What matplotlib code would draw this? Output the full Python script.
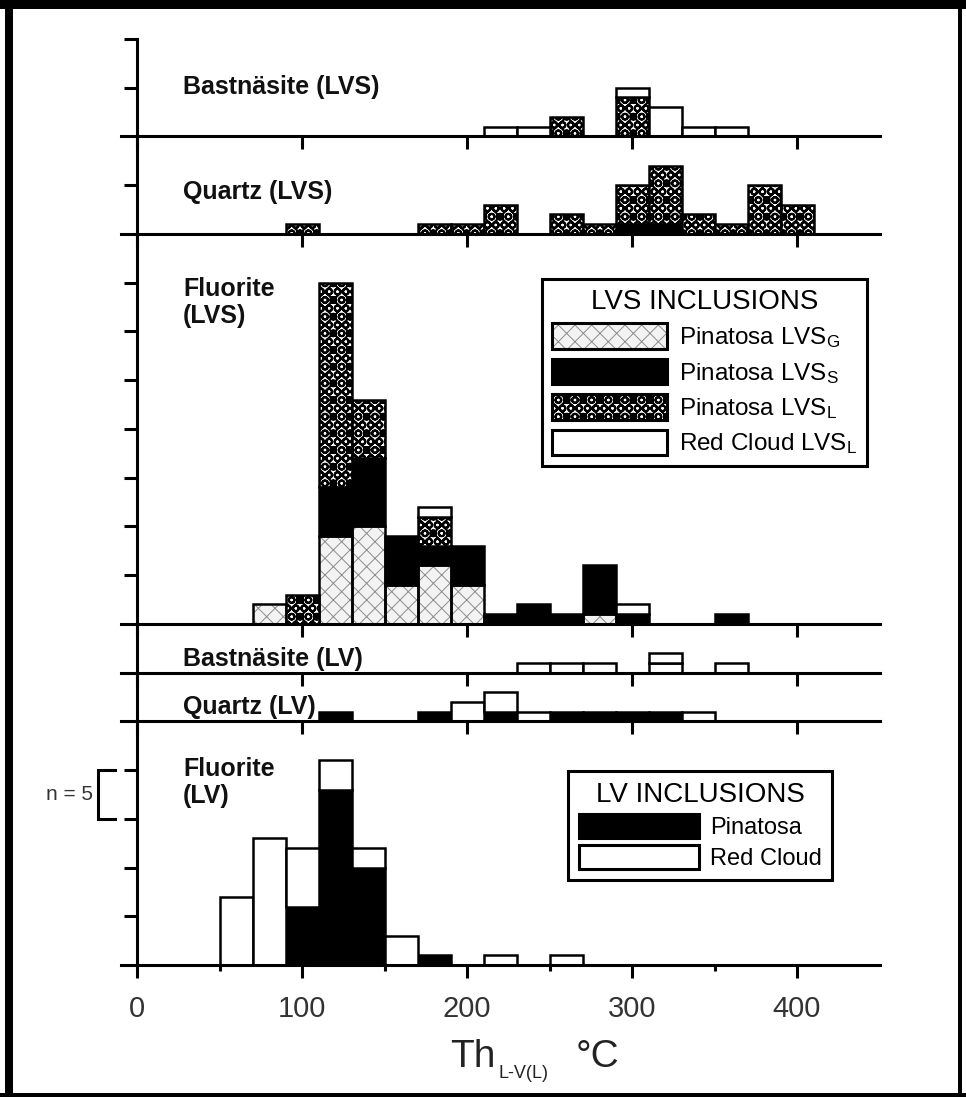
import matplotlib
matplotlib.use("Agg")
import matplotlib.pyplot as plt
from matplotlib.patches import Patch, Rectangle
from matplotlib.legend_handler import HandlerTuple
from matplotlib import font_manager
import numpy as np

plt.rcParams["font.family"] = ["Liberation Sans", "DejaVu Sans"]
plt.rcParams["mathtext.fontset"] = "custom"
plt.rcParams["mathtext.rm"] = "Liberation Sans"
plt.rcParams["mathtext.it"] = "Liberation Sans:italic"
plt.rcParams["mathtext.bf"] = "Liberation Sans:bold"
plt.rcParams["hatch.linewidth"] = 0.7

W, H = 966, 1097

# left edges of the 20 degree temperature bins
bins = [50, 70, 90, 110, 130, 150, 170, 190, 210, 230, 250, 270, 290, 310, 330, 350, 370, 390]

# Bastnasite, LVS inclusions
bast_lvs_pin_l = [0, 0, 0, 0, 0, 0, 0, 0, 0, 0, 2, 0, 4, 0, 0, 0, 0, 0]
bast_lvs_rc_l = [0, 0, 0, 0, 0, 0, 0, 0, 1, 1, 0, 0, 1, 3, 1, 1, 0, 0]

# Quartz, LVS inclusions
qtz_lvs_pin_s = [0, 0, 0, 0, 0, 0, 0, 0, 0, 0, 0, 0, 1, 1, 0, 0, 0, 0]
qtz_lvs_pin_l = [0, 0, 1, 0, 0, 0, 1, 1, 3, 0, 2, 1, 4, 6, 2, 1, 5, 3]

# Fluorite, LVS inclusions
fl_lvs_pin_g = [0, 2, 0, 9, 10, 4, 6, 4, 0, 0, 0, 1, 0, 0, 0, 0, 0, 0]
fl_lvs_pin_s = [0, 0, 0, 5, 7, 5, 2, 4, 1, 2, 1, 5, 1, 0, 0, 1, 0, 0]
fl_lvs_pin_l = [0, 0, 3, 21, 6, 0, 3, 0, 0, 0, 0, 0, 0, 0, 0, 0, 0, 0]
fl_lvs_rc_l = [0, 0, 0, 0, 0, 0, 1, 0, 0, 0, 0, 0, 1, 0, 0, 0, 0, 0]

# Bastnasite, LV inclusions
bast_lv_rc = [0, 0, 0, 0, 0, 0, 0, 0, 0, 1, 1, 1, 0, 1, 0, 1, 0, 0]
bast_lv_rc_upper = [0, 0, 0, 0, 0, 0, 0, 0, 0, 0, 0, 0, 0, 1, 0, 0, 0, 0]

# Quartz, LV inclusions
qtz_lv_pin = [0, 0, 0, 1, 0, 0, 1, 0, 1, 0, 1, 1, 1, 1, 0, 0, 0, 0]
qtz_lv_rc = [0, 0, 0, 0, 0, 0, 0, 2, 2, 1, 0, 0, 0, 0, 1, 0, 0, 0]

# Fluorite, LV inclusions
fl_lv_pin = [0, 0, 6, 18, 10, 0, 1, 0, 0, 0, 0, 0, 0, 0, 0, 0, 0, 0]
fl_lv_rc = [7, 13, 6, 3, 2, 3, 0, 0, 1, 0, 1, 0, 0, 0, 0, 0, 0, 0]

LW = 2.2
BAR_LW = 1.8
G_FACE, G_HATCH = "#f3f3f3", "#8c8c8c"
L_HATCH = "xxOO"
L_HATCH_LW = 1.5

STYLE = {
    "G": dict(facecolor=G_FACE, edgecolor=G_HATCH, hatch="xx", linewidth=0),
    "S": dict(facecolor="black", edgecolor="black", linewidth=BAR_LW),
    "L": dict(facecolor="white", edgecolor="black", hatch=L_HATCH, linewidth=BAR_LW),
    "W": dict(facecolor="white", edgecolor="black", linewidth=BAR_LW),
}

# condensed face for the axis title if it is installed
names = {f.name for f in font_manager.fontManager.ttflist}
TITLE_FONT = "Liberation Sans Narrow" if "Liberation Sans Narrow" in names else "Liberation Sans"
TITLE_SIZE = 32 if TITLE_FONT.endswith("Narrow") else 28


def thicker_hatch(patches):
    for p in patches:
        if hasattr(p, "set_hatch_linewidth"):
            p.set_hatch_linewidth(L_HATCH_LW)


def stack(ax, layers):
    bottom = np.zeros(len(bins))
    x = np.array(bins, float)
    for counts, kind in layers:
        counts = np.asarray(counts, float)
        m = counts > 0
        bars = ax.bar(x[m], counts[m], width=20, bottom=bottom[m], align="edge", **STYLE[kind])
        if kind == "L":
            thicker_hatch(bars)
        if kind == "G":
            ax.bar(x[m], counts[m], width=20, bottom=bottom[m], align="edge",
                   fill=False, edgecolor="black", linewidth=BAR_LW)
        bottom += counts


panels = [
    ("Bastnäsite (LVS)", 10, [5, 10], [(bast_lvs_pin_l, "L"), (bast_lvs_rc_l, "W")]),
    ("Quartz (LVS)", 10, [5], [(qtz_lvs_pin_s, "S"), (qtz_lvs_pin_l, "L")]),
    ("Fluorite\n(LVS)", 40, [5, 10, 15, 20, 25, 30, 35],
     [(fl_lvs_pin_g, "G"), (fl_lvs_pin_s, "S"), (fl_lvs_pin_l, "L"), (fl_lvs_rc_l, "W")]),
    ("Bastnäsite (LV)", 5, [], [(bast_lv_rc, "W"), (bast_lv_rc_upper, "W")]),
    ("Quartz (LV)", 5, [], [(qtz_lv_pin, "S"), (qtz_lv_rc, "W")]),
    ("Fluorite\n(LV)", 25, [5, 10, 15, 20], [(fl_lv_pin, "S"), (fl_lv_rc, "W")]),
]
label_y = [5.1, 4.3, 35.6, 1.4, 1.5, 21.3]

fig = plt.figure(figsize=(W / 100, H / 100), dpi=100)
gs = fig.add_gridspec(len(panels), 1, height_ratios=[p[1] for p in panels], hspace=0,
                      left=120.5 / W, right=879.5 / W, top=1 - 38.75 / H, bottom=1 - 965 / H)
axes = []
for i, (name, ymax, yt, layers) in enumerate(panels):
    ax = fig.add_subplot(gs[i])
    ax.patch.set_visible(False)
    stack(ax, layers)
    ax.set_xlim(-10, 450)
    ax.set_ylim(0, ymax)
    for s in ("top", "right"):
        ax.spines[s].set_visible(False)
    ax.spines["left"].set_position(("data", 0))
    ax.spines["left"].set_linewidth(LW)
    ax.spines["bottom"].set_linewidth(LW)
    ax.set_yticks(yt)
    ax.set_yticklabels([])
    ax.tick_params(axis="y", direction="out", length=9.4, width=LW)
    ax.set_xticks([0, 100, 200, 300, 400])
    ax.tick_params(axis="x", direction="out", length=9.4, width=LW, labelbottom=False)
    va = "top" if "\n" in name else "center"
    ax.text(28, label_y[i], name, fontsize=18, fontweight="bold", color="#111111",
            ha="left", va=va, linespacing=1.15)
    axes.append(ax)

# temperature scale on the lowest panel only
axb = axes[-1]
axb.set_xticks([50, 150, 250, 350], minor=True)
axb.tick_params(axis="x", which="minor", direction="out", length=4, width=LW)
axb.tick_params(axis="x", labelbottom=True, labelsize=21, labelcolor="#333333", pad=12)

# n = 5 scale bracket
axb.plot([-13.3, -23.6, -23.6, -13.3], [20, 20, 15, 15], color="black", lw=LW,
         clip_on=False, solid_joinstyle="miter")
axb.text(-26.5, 17.5, "n = 5", fontsize=15, color="#333333", ha="right", va="center")

# LVS legend
handler = {tuple: HandlerTuple(ndivide=1, pad=0)}
h_g = (Patch(facecolor=G_FACE, edgecolor=G_HATCH, hatch="xx", linewidth=0),
       Patch(fill=False, edgecolor="black", linewidth=LW))
h_s = Patch(facecolor="black", edgecolor="black", linewidth=LW)
h_l = Patch(facecolor="white", edgecolor="black", hatch=L_HATCH, linewidth=LW)
h_w = Patch(facecolor="white", edgecolor="black", linewidth=LW)
leg1 = axes[2].legend(
    [h_g, h_s, h_l, h_w],
    [r"Pinatosa LVS$_\mathrm{G}$", r"Pinatosa LVS$_\mathrm{S}$",
     r"Pinatosa LVS$_\mathrm{L}$", r"Red Cloud LVS$_\mathrm{L}$"],
    title="LVS INCLUSIONS", handler_map=handler, loc="upper left",
    bbox_to_anchor=(542 / W, 1 - 279 / H), bbox_transform=fig.transFigure,
    borderaxespad=0, fontsize=17.5, title_fontsize=20, handlelength=4.75,
    handleheight=1.25, labelspacing=0.35, handletextpad=0.5, borderpad=0.4,
    fancybox=False, edgecolor="black", framealpha=1)
leg1.get_frame().set_linewidth(LW)
thicker_hatch(leg1.legend_handles[2:3])

# LV legend
leg2 = axb.legend(
    [Patch(facecolor="black", edgecolor="black", linewidth=LW),
     Patch(facecolor="white", edgecolor="black", linewidth=LW)],
    ["Pinatosa", "Red Cloud"],
    title="LV INCLUSIONS", loc="upper left",
    bbox_to_anchor=(568 / W, 1 - 771 / H), bbox_transform=fig.transFigure,
    borderaxespad=0, fontsize=17, title_fontsize=20, handlelength=5.1,
    handleheight=1.2, labelspacing=0.25, handletextpad=0.45, borderpad=0.45,
    fancybox=False, edgecolor="black", framealpha=1)
leg2.get_frame().set_linewidth(LW)

# axis title: Th with L-V(L) subscript, then degrees C
fig.text(450 / W, 1 - 1067 / H, "Th", fontsize=TITLE_SIZE, family=TITLE_FONT,
         color="#222222", va="baseline", ha="left")
fig.text(498 / W, 1 - 1078 / H, "L-V(L)", fontsize=13, family=TITLE_FONT,
         color="#222222", va="baseline", ha="left")
fig.text(576 / W, 1 - 1067 / H, "°C", fontsize=TITLE_SIZE, family=TITLE_FONT,
         color="#222222", va="baseline", ha="left")

# heavy frame around the figure
frame = [(0, 1 - 9 / H, 1, 9 / H), (5 / W, 0, 8 / W, 1), (0, 0, 1, 4 / H), (958 / W, 0, 4 / W, 1)]
for x0, y0, w, h in frame:
    fig.add_artist(Rectangle((x0, y0), w, h, transform=fig.transFigure,
                             facecolor="black", edgecolor="none"))

fig.savefig("out.png", dpi=100)
